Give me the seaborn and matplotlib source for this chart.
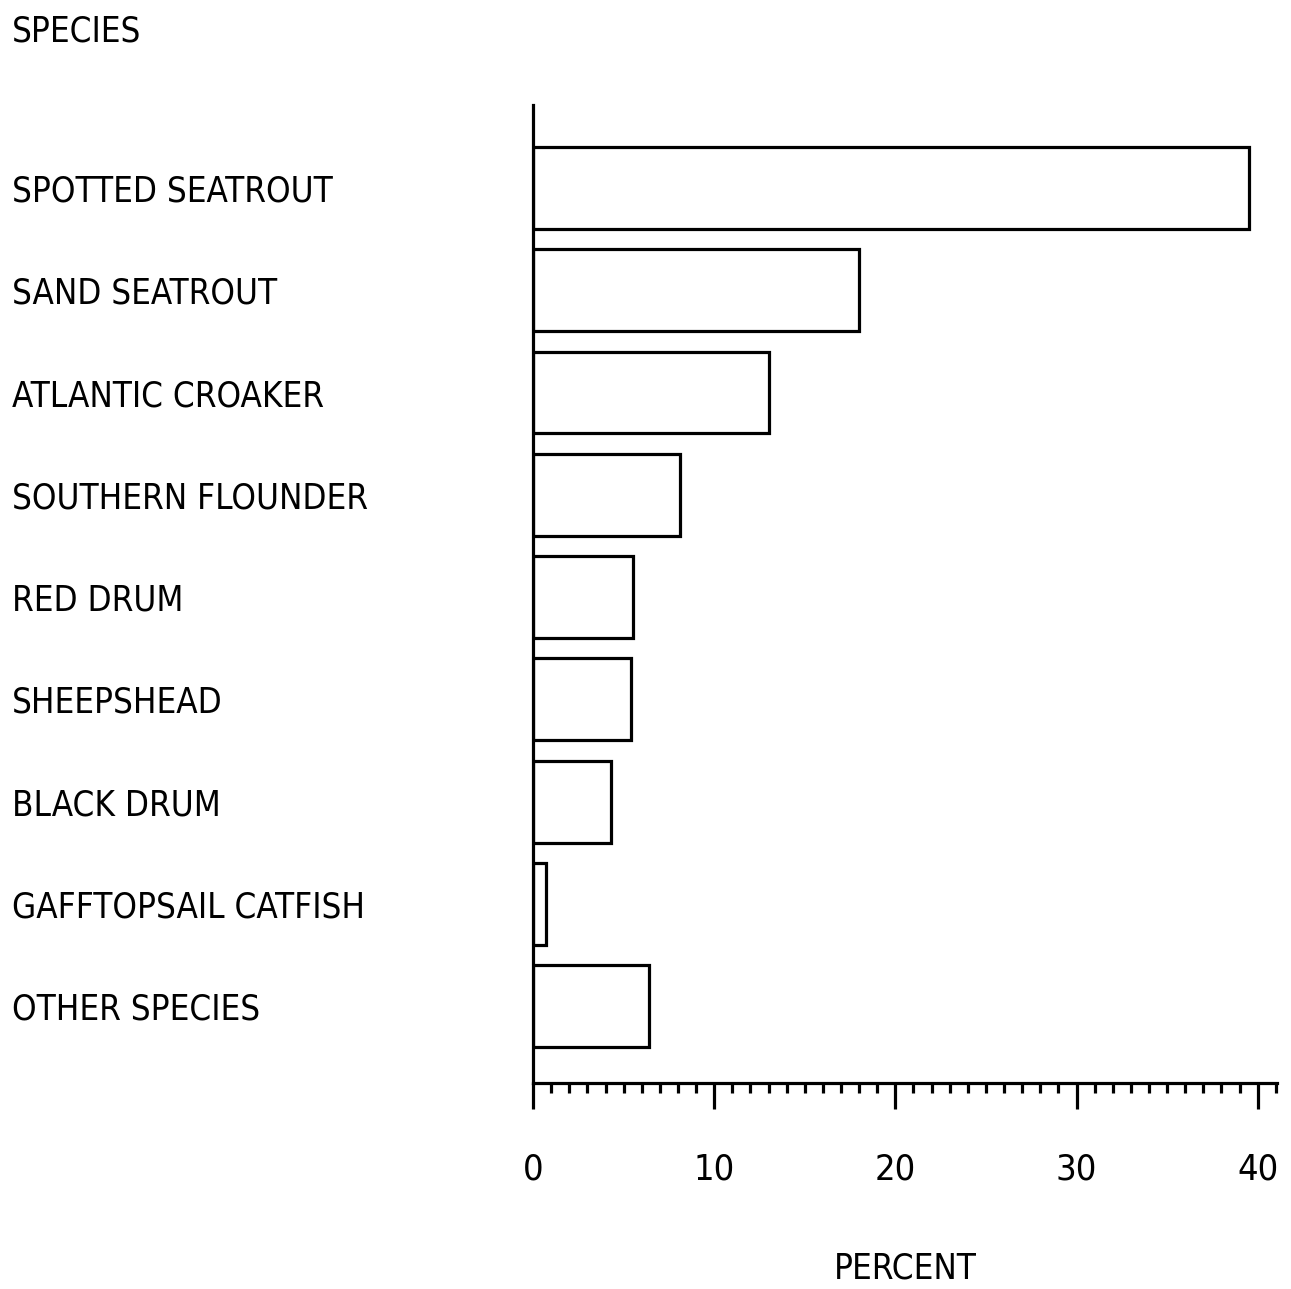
"""Horizontal bar chart: percent of catch by species."""
import matplotlib
matplotlib.use("Agg")
import matplotlib.pyplot as plt
import seaborn as sns
import pandas as pd
from matplotlib.ticker import MultipleLocator

species = ["SPOTTED SEATROUT", "SAND SEATROUT", "ATLANTIC CROAKER",
           "SOUTHERN FLOUNDER", "RED DRUM", "SHEEPSHEAD", "BLACK DRUM",
           "GAFFTOPSAIL CATFISH", "OTHER SPECIES"]
percent = [39.5, 18.0, 13.0, 8.1, 5.5, 5.4, 4.3, 0.7, 6.4]
x_ticks = [0, 10, 20, 30, 40]

sns.set_style("white")
plt.rcParams["font.family"] = ["DejaVu Sans"]
plt.rcParams["font.stretch"] = "condensed"
for key in ["text.color", "axes.labelcolor", "xtick.color", "ytick.color"]:
    plt.rcParams[key] = "black"

df = pd.DataFrame({"species": species, "percent": percent})

fig = plt.figure(figsize=(12.91, 12.89), dpi=100)
ax = fig.add_axes([0.4129, 0.1598, 0.576, 0.7587])

sns.barplot(data=df, x="percent", y="species", orient="h", color="white",
            saturation=1, edgecolor="black", linewidth=2.3, width=0.8, ax=ax)

ax.set_xlim(0, 41.05)
ax.set_ylim(8.75, -0.81)

for side in ["top", "right"]:
    ax.spines[side].set_visible(False)
for side in ["left", "bottom"]:
    ax.spines[side].set_linewidth(2.3)
    ax.spines[side].set_color("black")

fs = 25
ax.set_xticks(x_ticks)
ax.xaxis.set_minor_locator(MultipleLocator(1))
ax.tick_params(axis="x", which="major", direction="out", length=19, width=2.3,
               pad=31, labelsize=fs + 1, bottom=True)
ax.tick_params(axis="x", which="minor", direction="out", length=7.5, width=2.3,
               bottom=True)
ax.tick_params(axis="y", which="both", length=0, pad=375, labelsize=fs)
for lbl in ax.get_yticklabels():
    lbl.set_horizontalalignment("left")

ax.set_xlabel("PERCENT", fontsize=fs, labelpad=47)
ax.set_ylabel("")

fig.text(12 / 1291, 1 - 31 / 1289, "SPECIES", fontsize=fs, va="center", ha="left")

fig.savefig("out.png", dpi=100)
plt.close(fig)
